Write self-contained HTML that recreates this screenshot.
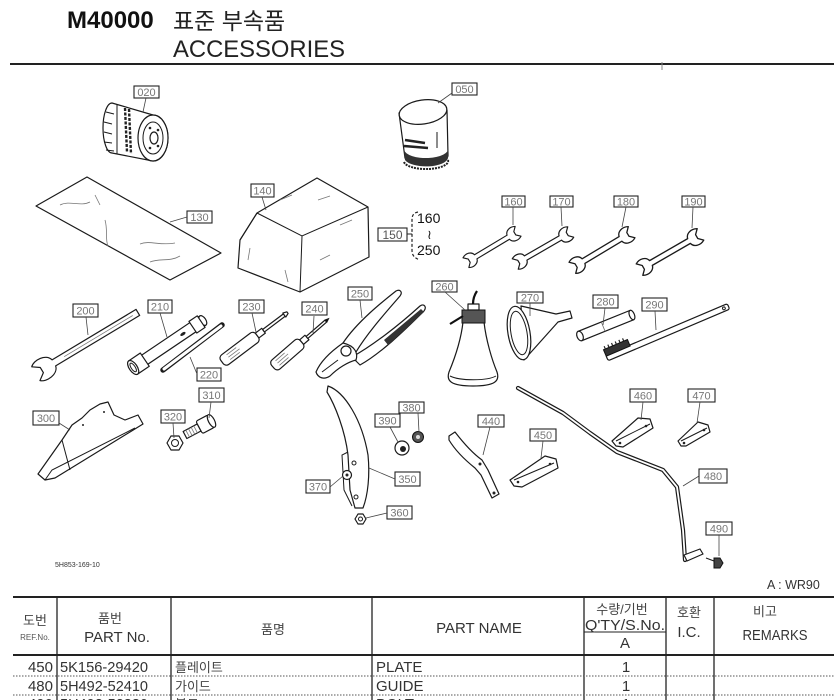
<!DOCTYPE html>
<html><head><meta charset="utf-8">
<style>
html,body{margin:0;padding:0;background:#fff;}
svg{display:block;}
text{font-family:"Liberation Sans","Noto Sans CJK KR",sans-serif;}
.lb{fill:#fff;stroke:#222;stroke-width:1.1}
.lt{font-size:11px;fill:#777;text-anchor:middle}
.ld{stroke:#444;stroke-width:0.8;fill:none}
.p{fill:#fff;stroke:#1a1a1a;stroke-width:1.2;stroke-linejoin:round}
.l{fill:none;stroke:#1a1a1a;stroke-width:1}
.g{fill:none;stroke:#777;stroke-width:0.8}
.h{font-size:13px;fill:#444;text-anchor:middle}
.hx{font-size:15px;fill:#333;text-anchor:middle}
.r{font-size:15px;fill:#333}
.rk{font-size:13px;fill:#444}
</style></head><body>
<svg width="834" height="700" viewBox="0 0 834 700" xmlns="http://www.w3.org/2000/svg">
<!-- Title -->
<text x="67" y="28" font-size="24" font-weight="bold" fill="#111">M40000</text>
<text x="173" y="29" font-size="23" fill="#222">표준 부속품</text>
<text x="173" y="57" font-size="24" fill="#222" textLength="172" lengthAdjust="spacingAndGlyphs">ACCESSORIES</text>
<line x1="10" y1="64" x2="834" y2="64" stroke="#222" stroke-width="2"/>
<line x1="662" y1="62" x2="662" y2="70" stroke="#888" stroke-width="1"/>

<!-- 020 oil filter -->
<path class="p" d="M112,103 L153,115 A15 23 0 0 1 153,161 L112,153 A9 25 0 0 1 112,103 Z"/>
<ellipse class="p" cx="153" cy="138" rx="15" ry="23"/>
<ellipse class="l" cx="153" cy="138" rx="10" ry="16"/>
<ellipse class="p" cx="154" cy="138" rx="4" ry="6"/>
<circle cx="150" cy="128" r="1.3" fill="#222"/><circle cx="158" cy="130" r="1.3" fill="#222"/><circle cx="150" cy="148" r="1.3" fill="#222"/><circle cx="158" cy="146" r="1.3" fill="#222"/>
<path class="l" d="M106,112 L114,114 M104,122 L112,124 M104,132 L112,134 M104,142 L112,143 M106,150 L114,151"/>
<path d="M125,108 L127,152 M129,109 L131,154" stroke="#222" stroke-width="2.4" stroke-dasharray="3 1.5"/>
<path class="l" d="M117,104 L117,154"/>

<!-- 050 oil filter -->
<path class="p" d="M399,113 L405,158 A22 9 0 0 0 448,155 L447,110 Z"/>
<ellipse class="p" cx="423" cy="112" rx="24" ry="12" transform="rotate(-8 423 112)"/>
<path d="M404,150 A22 9 0 0 0 448,148 L448,158 A22 9 0 0 1 405,160 Z" fill="#333"/>
<path d="M404,162 A22 8 0 0 0 448,160" stroke="#222" stroke-width="2" fill="none" stroke-dasharray="2 1"/>
<path d="M405,140 L425,143 M404,146 L428,148" stroke="#222" stroke-width="2.5"/>
<path class="l" d="M437,132 L437,148"/>

<!-- 130 sheet -->
<polygon class="p" points="36,206 87,177 221,253 170,280"/>
<path class="g" d="M60,205 C70,200 80,207 90,202 M95,195 L100,205 M105,220 C108,230 105,240 108,246 M140,244 C150,240 160,246 175,243 M150,262 C160,258 170,262 180,256"/>

<!-- 140 bag -->
<polygon class="p" points="257,213 317,178 368,207 369,257 300,292 238,268 240,240"/>
<path class="l" d="M257,213 L302,236 L368,207 M302,236 L300,292 M240,240 L257,213"/>
<path class="g" d="M280,200 L292,195 M318,200 L330,196 M250,248 L248,260 M320,260 L330,255 M340,225 L352,220 M285,270 L288,282"/>

<!-- 150 bracket -->
<line x1="407" y1="234" x2="412" y2="234" stroke="#222" stroke-width="1"/>
<path d="M418,212 C413,213 412,216 412,220 L412,250 C412,255 414,258 420,260" fill="none" stroke="#222" stroke-width="1.2" stroke-dasharray="3 2"/>
<text x="417" y="223" font-size="14" fill="#111">160</text>
<text x="427" y="239" font-size="13" fill="#111">≀</text>
<text x="417" y="255" font-size="14" fill="#111">250</text>

<!-- wrenches 160-190 -->
<defs>
<path id="wr" d="M-20,-2.5 L20,-2.5 C21,-7 27,-9 32,-6 L28,-2 L28,2 L32,6 C27,9 21,7 20,2.5 L-20,2.5 C-21,7 -27,9 -32,6 L-28,2 L-28,-2 L-32,-6 C-27,-9 -21,-7 -20,-2.5 Z"/>
</defs>
<use href="#wr" class="p" transform="translate(492,247) rotate(-31) scale(0.95)"/>
<use href="#wr" class="p" transform="translate(543,248) rotate(-30) scale(1)"/>
<use href="#wr" class="p" transform="translate(602,250) rotate(-31) scale(1.08)"/>
<use href="#wr" class="p" transform="translate(670,252) rotate(-30) scale(1.1)"/>

<!-- 200 wrench -->
<g transform="translate(47,367) rotate(-31)">
<path class="p" d="M8,-3.5 L106,-3.5 L106,3.5 L8,3.5 C6,12 -8,13 -13,8 L-6,3 L-6,-3 L-13,-8 C-8,-13 6,-12 8,-3.5 Z"/>
<path class="g" d="M20,0 L100,0"/>
</g>

<!-- 210 box wrench -->
<g transform="translate(168,344) rotate(-34)">
<rect class="p" x="-30" y="-5.5" width="72" height="11"/>
<rect class="p" x="-42" y="-8" width="14" height="16"/>
<ellipse class="p" cx="-42" cy="0" rx="4" ry="8"/>
<ellipse class="l" cx="-42" cy="0" rx="2" ry="5"/>
<ellipse class="p" cx="42" cy="0" rx="3" ry="5.5"/>
<rect class="p" x="30" y="-7" width="10" height="14"/>
<ellipse cx="18" cy="0" rx="3" ry="1.5" fill="#222"/>
</g>

<!-- 220 rod -->
<line x1="163" y1="370" x2="222" y2="325" stroke="#1a1a1a" stroke-width="5.5" stroke-linecap="round"/>
<line x1="164" y1="369" x2="221" y2="326" stroke="#fff" stroke-width="3" stroke-linecap="round"/>

<!-- 230 screwdriver -->
<g transform="translate(222,362) rotate(-37)">
<rect class="p" x="0" y="-6" width="44" height="12" rx="4"/>
<path class="g" d="M8,-3 L20,-3 M8,0 L22,0 M8,3 L20,3"/>
<rect class="p" x="44" y="-3" width="8" height="6"/>
<rect class="p" x="52" y="-1.5" width="26" height="3"/>
<path class="p" d="M78,-2.5 L82,-1 L82,1 L78,2.5 Z"/>
</g>

<!-- 240 screwdriver -->
<g transform="translate(273,367) rotate(-41)">
<rect class="p" x="0" y="-6" width="38" height="12" rx="4"/>
<path class="g" d="M6,-3 L18,-3 M6,0 L20,0 M6,3 L18,3"/>
<rect class="p" x="38" y="-3" width="7" height="6"/>
<rect class="p" x="45" y="-1.3" width="25" height="2.6"/>
<path d="M70,-2 L75,0 L70,2 Z" fill="#111"/>
</g>

<!-- 250 pliers -->
<path class="p" d="M343,343 C357,322 382,302 396,291 C400,289 403,292 400,296 C388,310 368,332 356,352 Z"/>
<path class="p" d="M352,357 C372,346 398,326 420,306 C424,303 427,307 424,311 C404,331 380,354 360,365 Z"/>
<path d="M384,340 L421,309 L424,312 L388,345 Z" fill="#333"/>
<path class="p" d="M343,343 C333,350 321,360 316,372 C318,378 324,380 330,376 C338,368 348,362 356,360 C358,354 356,346 343,343 Z"/>
<circle class="p" cx="346" cy="351" r="5"/>
<path class="l" d="M322,372 L338,360"/>

<!-- 260 oil can -->
<path class="p" d="M463,322 L484,322 C486,340 492,360 497,372 C500,381 495,386 473,386 C451,386 446,381 449,372 C454,360 461,340 463,322 Z"/>
<path class="l" d="M450,376 C460,381 487,381 496,376"/>
<rect x="462" y="310" width="23" height="13" fill="#555" stroke="#111"/>
<rect class="p" x="468" y="304" width="11" height="6"/>
<path d="M473,304 C473,298 475,294 477,291" stroke="#111" stroke-width="2.2" fill="none"/>
<path d="M463,316 L450,324" stroke="#111" stroke-width="2.2" fill="none"/>

<!-- 270 funnel -->
<path class="p" d="M521,306 L556,314 L570,311 L572,318 L558,322 L524,360 Z"/>
<ellipse class="p" cx="519" cy="333" rx="11" ry="27" transform="rotate(-10 519 333)"/>
<ellipse class="l" cx="519" cy="333" rx="8" ry="22" transform="rotate(-10 519 333)"/>

<!-- 280 pipe -->
<g transform="translate(580,336) rotate(-22)">
<rect class="p" x="0" y="-5" width="56" height="10"/>
<ellipse class="p" cx="0" cy="0" rx="3" ry="5"/>
<ellipse class="p" cx="56" cy="0" rx="2.5" ry="5"/>
<line x1="25" y1="-5" x2="25" y2="5" stroke="#666" stroke-width="0.8"/>
</g>

<!-- 290 brush -->
<g transform="translate(607,358) rotate(-23)">
<rect class="p" x="0" y="-3" width="132" height="6" rx="2"/>
<circle class="l" cx="127" cy="0" r="1.4"/>
<rect x="0" y="-9" width="26" height="7" fill="#333" stroke="#111"/>
<path d="M2,-9 L2,-12 M6,-9 L6,-12 M10,-9 L10,-12 M14,-9 L14,-12 M18,-9 L18,-12 M22,-9 L22,-12" stroke="#222" stroke-width="1.2"/>
</g>

<!-- 300 plate -->
<polygon class="p" points="38,474 62,440 72,425 82,418 90,410 100,404 108,402 114,415 125,420 138,415 143,424 130,432 55,478 45,480"/>
<path class="l" d="M45,480 L52,470 L135,428 M62,440 L70,470"/>
<circle cx="83" cy="425" r="1" fill="#222"/><circle cx="104" cy="412" r="1" fill="#222"/>

<!-- 310 bolt -->
<g transform="translate(185,435) rotate(-28)">
<rect class="p" x="0" y="-4" width="16" height="8"/>
<path class="g" d="M3,-4 L3,4 M6,-4 L6,4 M9,-4 L9,4 M12,-4 L12,4"/>
<rect class="p" x="16" y="-7" width="14" height="14" rx="2"/>
<ellipse class="p" cx="30" cy="0" rx="3" ry="7"/>
</g>
<!-- 320 nut -->
<polygon class="p" points="183,443 179,450 171,450 167,443 171,436 179,436"/>
<circle class="l" cx="175" cy="443" r="3.5"/>

<!-- 350 arm -->
<path class="p" d="M328,386 C345,392 362,420 368,455 C370,475 368,495 363,508 L355,508 L350,490 L348,455 C345,430 335,405 327,392 Z"/>
<path class="l" d="M348,452 L342,455 L344,490 L352,506"/>
<circle class="l" cx="354" cy="463" r="2"/>
<circle class="l" cx="356" cy="497" r="2"/>
<!-- 370 washer -->
<circle class="p" cx="347" cy="475" r="4.5"/>
<circle cx="347" cy="475" r="1.5" fill="#222"/>
<!-- 360 nut -->
<polygon class="p" points="366,519 363,524 358,524 355,519 358,514 363,514"/>
<circle class="l" cx="360.5" cy="519" r="2"/>
<!-- 390 cap -->
<circle class="p" cx="402" cy="448" r="7"/>
<circle cx="403" cy="449" r="3" fill="#222"/>
<!-- 380 nut -->
<circle cx="418" cy="437" r="5.5" fill="#555" stroke="#111"/>
<circle cx="418" cy="437" r="2" fill="#ddd"/>

<!-- 440 bracket -->
<path class="p" d="M449,436 L455,432 C465,445 475,455 482,460 L488,470 L499,494 L492,498 L481,475 L475,468 C465,460 455,450 449,440 Z"/>
<circle cx="480" cy="464" r="1.5" fill="#222"/><circle cx="494" cy="493" r="1.5" fill="#222"/>

<!-- 450, 460, 470 plates -->
<polygon class="p" points="510,480 545,456 556,459 558,468 522,487 514,486"/>
<path class="l" d="M514,480 L554,463"/><circle cx="518" cy="482" r="1.3" fill="#222"/><circle cx="550" cy="464" r="1.3" fill="#222"/>
<polygon class="p" points="612,441 638,418 650,419 653,428 623,447 616,446"/>
<path class="l" d="M616,441 L650,424"/><circle cx="620" cy="443" r="1.3" fill="#222"/><circle cx="646" cy="426" r="1.3" fill="#222"/>
<polygon class="p" points="678,441 698,422 708,425 710,432 686,446 681,446"/>
<path class="l" d="M681,441 L707,428"/><circle cx="684" cy="443" r="1.3" fill="#222"/><circle cx="704" cy="430" r="1.3" fill="#222"/>

<!-- 480 rod -->
<polyline points="518,388 563,413 590,433 617,452 663,470 677,487 683,530 685,560" fill="none" stroke="#1a1a1a" stroke-width="4.2" stroke-linejoin="round" stroke-linecap="round"/>
<polyline points="518,388 563,413 590,433 617,452 663,470 677,487 683,530 685,560" fill="none" stroke="#fff" stroke-width="1.8" stroke-linejoin="round" stroke-linecap="round"/>
<polygon class="p" points="684,555 700,549 703,554 687,561"/>
<!-- 490 bolt -->
<path class="l" d="M706,558 L714,561"/>
<polygon points="714,558 720,558 723,563 720,568 714,568" fill="#444" stroke="#111"/>

<!-- labels -->
<g>
<rect class="lb" x="134" y="86" width="25" height="12"/><text class="lt" x="146.5" y="96">020</text>
<rect class="lb" x="452" y="83" width="25" height="12"/><text class="lt" x="464.5" y="93">050</text>
<rect class="lb" x="187" y="211" width="25" height="12"/><text class="lt" x="199.5" y="221">130</text>
<rect class="lb" x="251" y="184" width="23" height="13"/><text class="lt" x="262.5" y="194.5">140</text>
<rect class="lb" x="378" y="228" width="29" height="13"/><text x="392.5" y="239" font-size="12" fill="#555" text-anchor="middle">150</text>
<rect class="lb" x="502" y="196" width="23" height="11"/><text class="lt" x="513.5" y="205.5">160</text>
<rect class="lb" x="550" y="196" width="23" height="11"/><text class="lt" x="561.5" y="205.5">170</text>
<rect class="lb" x="614" y="196" width="24" height="11"/><text class="lt" x="626" y="205.5">180</text>
<rect class="lb" x="682" y="196" width="23" height="11"/><text class="lt" x="693.5" y="205.5">190</text>
<rect class="lb" x="73" y="304" width="25" height="13"/><text class="lt" x="85.5" y="314.5">200</text>
<rect class="lb" x="148" y="300" width="24" height="13"/><text class="lt" x="160" y="310.5">210</text>
<rect class="lb" x="197" y="368" width="24" height="13"/><text class="lt" x="209" y="378.5">220</text>
<rect class="lb" x="239" y="300" width="25" height="13"/><text class="lt" x="251.5" y="310.5">230</text>
<rect class="lb" x="302" y="302" width="25" height="13"/><text class="lt" x="314.5" y="312.5">240</text>
<rect class="lb" x="348" y="287" width="24" height="13"/><text class="lt" x="360" y="297.5">250</text>
<rect class="lb" x="432" y="281" width="25" height="11"/><text class="lt" x="444.5" y="290.5">260</text>
<rect class="lb" x="517" y="292" width="26" height="11"/><text class="lt" x="530" y="301.5">270</text>
<rect class="lb" x="593" y="295" width="25" height="13"/><text class="lt" x="605.5" y="305.5">280</text>
<rect class="lb" x="642" y="298" width="25" height="13"/><text class="lt" x="654.5" y="308.5">290</text>
<rect class="lb" x="33" y="411" width="26" height="14"/><text class="lt" x="46" y="422">300</text>
<rect class="lb" x="199" y="388" width="25" height="14"/><text class="lt" x="211.5" y="399">310</text>
<rect class="lb" x="161" y="410" width="24" height="13"/><text class="lt" x="173" y="420.5">320</text>
<rect class="lb" x="395" y="472" width="25" height="14"/><text class="lt" x="407.5" y="483">350</text>
<rect class="lb" x="387" y="506" width="25" height="13"/><text class="lt" x="399.5" y="516.5">360</text>
<rect class="lb" x="306" y="480" width="24" height="13"/><text class="lt" x="318" y="490.5">370</text>
<rect class="lb" x="399" y="402" width="25" height="11"/><text class="lt" x="411.5" y="411.5">380</text>
<rect class="lb" x="375" y="414" width="25" height="13"/><text class="lt" x="387.5" y="424.5">390</text>
<rect class="lb" x="478" y="415" width="26" height="12"/><text class="lt" x="491" y="425">440</text>
<rect class="lb" x="530" y="429" width="26" height="12"/><text class="lt" x="543" y="439">450</text>
<rect class="lb" x="630" y="389" width="26" height="13"/><text class="lt" x="643" y="399.5">460</text>
<rect class="lb" x="688" y="389" width="27" height="13"/><text class="lt" x="701.5" y="399.5">470</text>
<rect class="lb" x="699" y="469" width="28" height="14"/><text class="lt" x="713" y="480">480</text>
<rect class="lb" x="706" y="522" width="26" height="13"/><text class="lt" x="719" y="532.5">490</text>
</g>
<!-- leaders -->
<path class="ld" d="M146,98 L143,112 M452,93 L438,103 M187,217 L170,222 M262,197 L266,210 M513,207 L513,225 M561,207 L562,226 M626,207 L622,227 M693,207 L692,228 M86,317 L88,335 M160,313 L167,337 M197,374 L190,357 M252,313 L256,332 M314,316 L313,333 M360,300 L362,318 M445,292 L465,310 M530,303 L530,316 M605,308 L603,325 M655,311 L656,330 M59,423 L70,430 M211,402 L209,418 M173,423 L174,438 M395,479 L369,468 M387,513 L366,518 M330,487 L343,476 M418,413 L419,432 M390,427 L398,442 M490,427 L483,455 M543,441 L541,458 M643,402 L641,420 M700,402 L697,423 M699,476 L683,486 M719,535 L719,556"/>

<text x="55" y="567" font-size="7" fill="#333">5H853-169-10</text>
<text x="767" y="589" font-size="12.5" fill="#333">A : WR90</text>

<!-- table -->
<line x1="13" y1="597" x2="834" y2="597" stroke="#222" stroke-width="2"/>
<line x1="13" y1="655" x2="834" y2="655" stroke="#222" stroke-width="2"/>
<g stroke="#222" stroke-width="1.3">
<line x1="57" y1="597" x2="57" y2="700"/>
<line x1="171" y1="597" x2="171" y2="700"/>
<line x1="372" y1="597" x2="372" y2="700"/>
<line x1="584" y1="597" x2="584" y2="700"/>
<line x1="666" y1="597" x2="666" y2="700"/>
<line x1="714" y1="597" x2="714" y2="700"/>
<line x1="584" y1="632" x2="666" y2="632" stroke-width="1"/>
</g>
<g stroke="#555" stroke-width="1" stroke-dasharray="1.5 1.5">
<line x1="13" y1="676" x2="834" y2="676"/>
<line x1="13" y1="695" x2="834" y2="695"/>
</g>
<text class="h" x="35" y="625">도번</text>
<text x="35" y="640" font-size="8" fill="#555" text-anchor="middle">REF.No.</text>
<text class="h" x="110" y="623" font-size="12">품번</text>
<text class="hx" x="117" y="642">PART No.</text>
<text class="h" x="273" y="634">품명</text>
<text class="hx" x="479" y="633">PART NAME</text>
<text class="h" x="622" y="614">수량/기번</text>
<text class="hx" x="625" y="630" textLength="80" lengthAdjust="spacingAndGlyphs">Q'TY/S.No.</text>
<text class="hx" x="625" y="648">A</text>
<text class="h" x="689" y="617">호환</text>
<text class="hx" x="689" y="637">I.C.</text>
<text class="h" x="765" y="616">비고</text>
<text class="hx" x="775" y="640" textLength="65" lengthAdjust="spacingAndGlyphs">REMARKS</text>

<text class="r" x="53" y="672" text-anchor="end">450</text>
<text class="r" x="60" y="672" textLength="88" lengthAdjust="spacingAndGlyphs">5K156-29420</text>
<text class="rk" x="175" y="672">플레이트</text>
<text class="r" x="376" y="672">PLATE</text>
<text class="r" x="626" y="672" text-anchor="middle">1</text>

<text class="r" x="53" y="691" text-anchor="end">480</text>
<text class="r" x="60" y="691" textLength="88" lengthAdjust="spacingAndGlyphs">5H492-52410</text>
<text class="rk" x="175" y="691">가이드</text>
<text class="r" x="376" y="691">GUIDE</text>
<text class="r" x="626" y="691" text-anchor="middle">1</text>

<text class="r" x="53" y="709" text-anchor="end">490</text>
<text class="r" x="60" y="709" textLength="88" lengthAdjust="spacingAndGlyphs">5H492-52330</text>
<text class="rk" x="175" y="709">볼트</text>
<text class="r" x="376" y="709">BOLT</text>
<text class="r" x="626" y="709" text-anchor="middle">1</text>
</svg>
</body></html>
